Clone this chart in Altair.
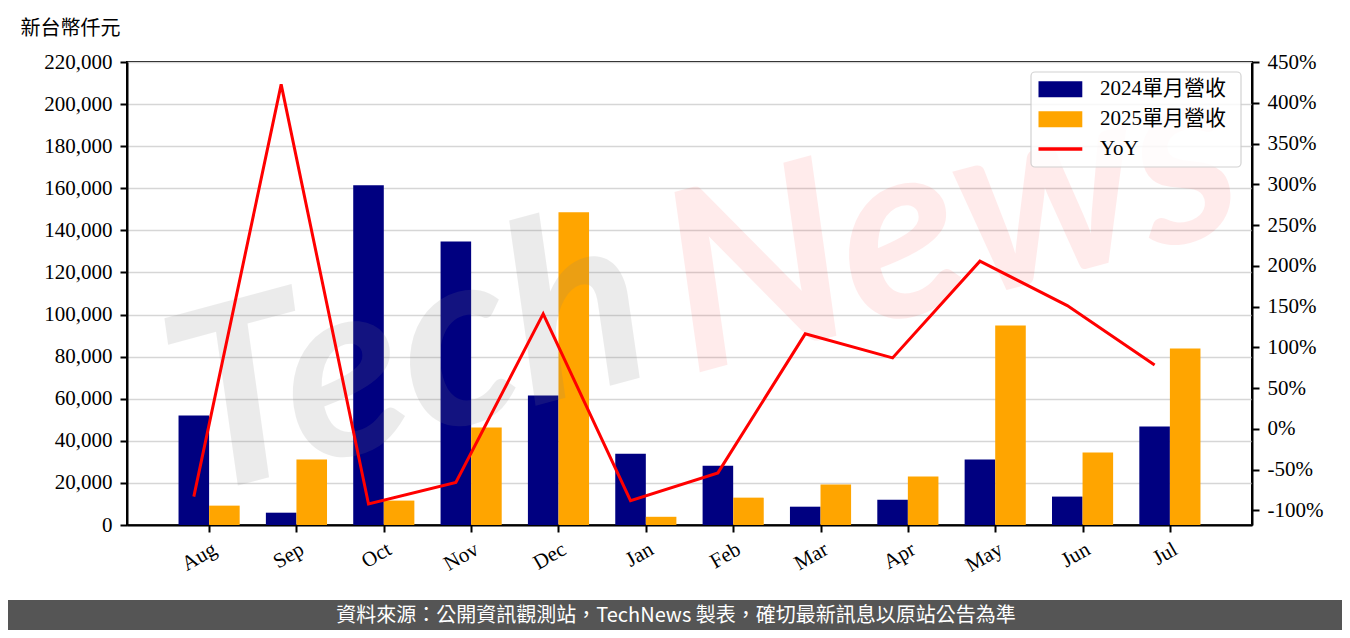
import altair as alt
import pandas as pd

# ---------------- data ----------------
months = ["Aug", "Sep", "Oct", "Nov", "Dec", "Jan", "Feb", "Mar", "Apr", "May", "Jun", "Jul"]
rev_2024 = [52000, 5850, 161400, 134700, 61500, 33900, 28200, 8700, 12000, 31100, 13500, 46800]
rev_2025 = [9200, 31100, 11600, 46300, 148600, 3900, 13000, 19200, 23000, 94800, 34400, 83900]
yoy_pct = [-83.2, 422.5, -92.2, -65.7, 141.0, -88.1, -54.1, 116.5, 87.0, 205.6, 151.2, 78.4]
series_names = ["2024單月營收", "2025單月營收", "YoY"]
series_colors = ["#000080", "#FFA500", "#FF0000"]
left_ticks = list(range(0, 220001, 20000))
right_ticks = list(range(-100, 451, 50))
y_title = "新台幣仟元"
footer_text = "資料來源：公開資訊觀測站，TechNews 製表，確切最新訊息以原站公告為準"
watermark_a = "Tech"
watermark_b = "News"

# ---------------- tables ----------------
bar_rows = []
for i, m in enumerate(months):
    bar_rows.append({"i": i, "month": m, "series": series_names[0], "value": rev_2024[i]})
    bar_rows.append({"i": i, "month": m, "series": series_names[1], "value": rev_2025[i]})
bar_df = pd.DataFrame(bar_rows)
line_df = pd.DataFrame({"i": list(range(len(months))), "month": months, "yoy": yoy_pct,
                        "series": [series_names[2]] * len(months)})
legend_df = pd.DataFrame({"k": [0, 1, 2], "name": series_names, "col": series_colors})

# ---------------- layout ----------------
W, H = 1125, 463
PAD_L, PAD_T = 119, 54
TOTAL_W, TOTAL_H = 1334, 622
PAD_R = TOTAL_W - PAD_L - W
PAD_B = TOTAL_H - PAD_T - H

SERIF = "Liberation Serif, Noto Sans CJK TC"
CJK = "Noto Sans CJK TC"
BW = 0.35

x_scale = alt.Scale(domain=[-0.94, 11.94], nice=False, zero=False)
label_expr = "[" + ",".join("'%s'" % m for m in months) + "][datum.value]"
x_axis = alt.Axis(
    values=list(range(len(months))), labelExpr=label_expr, title=None, grid=False,
    labelAngle=-30, labelAlign="right", labelBaseline="top", labelPadding=6,
    labelFont=SERIF, labelFontSize=21, labelColor="black",
    domainColor="black", domainWidth=2, tickColor="black", tickWidth=2, tickSize=7,
)
left_axis = alt.Axis(
    values=left_ticks, labelExpr="format(datum.value, ',')", grid=True,
    gridColor="#d6d6d6", gridWidth=1.6,
    labelFont=SERIF, labelFontSize=21, labelColor="black", labelPadding=8,
    domainColor="black", domainWidth=2, tickColor="black", tickWidth=2, tickSize=7,
    title=y_title, titleAngle=0, titleAlign="left", titleBaseline="middle",
    titleX=-107, titleY=-34, titleFont=CJK, titleFontSize=20, titleFontWeight="normal",
    titleColor="black",
)
right_axis = alt.Axis(
    values=right_ticks, labelExpr="datum.value + '%'", grid=False, orient="right",
    labelFont=SERIF, labelFontSize=21, labelColor="black", labelPadding=8,
    domainColor="black", domainWidth=2, tickColor="black", tickWidth=2, tickSize=7,
    title=None,
)
color_scale = alt.Scale(domain=series_names, range=series_colors)

bars = alt.Chart(bar_df).transform_calculate(
    x0="datum.series === '%s' ? datum.i - %f : datum.i" % (series_names[0], BW),
    x1="datum.series === '%s' ? datum.i : datum.i + %f" % (series_names[0], BW),
).mark_rect().encode(
    x=alt.X("x0:Q", scale=x_scale, axis=x_axis),
    x2="x1:Q",
    y=alt.Y("value:Q", scale=alt.Scale(domain=[0, 220000], nice=False, zero=True), axis=left_axis),
    y2=alt.datum(0),
    color=alt.Color("series:N", scale=color_scale, legend=None),
)

wm_a = alt.Chart(pd.DataFrame({"t": [watermark_a]})).mark_text(
    font="Lato", fontSize=250, fontWeight="bold", fontStyle="italic", angle=345,
    align="center", baseline="middle", color="#808080", opacity=0.15,
).encode(text="t:N", x=alt.value(282), y=alt.value(300))
wm_b = alt.Chart(pd.DataFrame({"t": [watermark_b]})).mark_text(
    font="Lato", fontSize=250, fontWeight="bold", fontStyle="italic", angle=345,
    align="center", baseline="middle", color="#ff0000", opacity=0.075,
).encode(text="t:N", x=alt.value(825), y=alt.value(165))

line = alt.Chart(line_df).transform_calculate(
    xc="datum.i - %f" % (BW / 2)
).mark_line(strokeWidth=3).encode(
    x=alt.X("xc:Q", scale=x_scale, axis=x_axis),
    y=alt.Y("yoy:Q", scale=alt.Scale(domain=[-118, 450], nice=False, zero=False), axis=right_axis),
    color=alt.Color("series:N", scale=color_scale, legend=None),
)

# ---------------- manual legend (pixel space) ----------------
leg_box = alt.Chart(pd.DataFrame({"t": ["box"]})).mark_rect(
    fill="white", stroke="#cccccc", strokeWidth=1.2, cornerRadius=4, opacity=0.85,
).encode(x=alt.value(904), x2=alt.value(1114), y=alt.value(10), y2=alt.value(105))
leg_base = alt.Chart(legend_df).transform_calculate(
    cy="27.3 + datum.k * 29.85",
    hh="datum.name === 'YoY' ? 1.65 : 8",
    y0="datum.cy - datum.hh",
    y1="datum.cy + datum.hh",
)
leg_sym = leg_base.mark_rect().encode(
    x=alt.value(911.5), x2=alt.value(955.3),
    y=alt.Y("y0:Q", scale=None), y2="y1:Q",
    color=alt.Color("col:N", scale=None, legend=None),
)
leg_txt = leg_base.mark_text(
    font=SERIF, fontSize=21, align="left", baseline="middle", color="black",
).encode(x=alt.value(973), y=alt.Y("cy:Q", scale=None), text="name:N")

footer_band = alt.Chart(pd.DataFrame({"t": [footer_text]})).mark_rect(color="#555555").encode(
    x=alt.value(-PAD_L), x2=alt.value(W + PAD_R), y=alt.value(538), y2=alt.value(H + PAD_B + 10),
)
footer = alt.Chart(pd.DataFrame({"t": [footer_text]})).mark_text(
    font=CJK, fontSize=20, color="white", align="center", baseline="middle",
).encode(text="t:N", x=alt.value(TOTAL_W / 2 - PAD_L + 1), y=alt.value(554))

chart = alt.layer(
    bars, wm_a, wm_b, line, leg_box, leg_sym, leg_txt, footer_band, footer
).resolve_scale(
    y="independent"
).properties(
    width=W, height=H,
    autosize=alt.AutoSizeParams(type="none"),
    padding={"left": PAD_L, "top": PAD_T, "right": PAD_R, "bottom": PAD_B},
    background="white",
).configure_view(stroke="black", strokeWidth=2)

chart.save("out.html", embed_options={"renderer": "svg", "actions": False})
